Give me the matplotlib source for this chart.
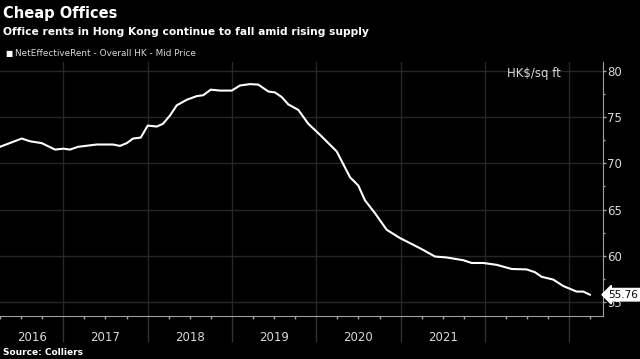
import matplotlib
matplotlib.use("Agg")
import matplotlib.pyplot as plt
from matplotlib.ticker import MultipleLocator, FixedLocator, NullFormatter

# Data (decimal year, HK$/sq ft)
years = [2016.249, 2016.507, 2016.605, 2016.744, 2016.902, 2017.0, 2017.079, 2017.174,
         2017.396, 2017.589, 2017.672, 2017.752, 2017.827, 2017.918, 2018.001, 2018.108,
         2018.182, 2018.265, 2018.345, 2018.463, 2018.582, 2018.660, 2018.748, 2018.858,
         2018.997, 2019.095, 2019.214, 2019.312, 2019.431, 2019.510, 2019.590, 2019.668,
         2019.787, 2019.905, 2020.044, 2020.242, 2020.400, 2020.498, 2020.577, 2020.696,
         2020.835, 2020.993, 2021.230, 2021.408, 2021.546, 2021.743, 2021.843, 2021.981,
         2022.139, 2022.317, 2022.495, 2022.593, 2022.673, 2022.810, 2022.929, 2023.087,
         2023.166, 2023.245]
rent = [71.8, 72.7, 72.4, 72.2, 71.5, 71.6, 71.5, 71.8,
        72.05, 72.05, 71.9, 72.2, 72.7, 72.8, 74.1, 74.0,
        74.3, 75.2, 76.3, 76.9, 77.3, 77.4, 78.0, 77.9,
        77.9, 78.45, 78.6, 78.55, 77.8, 77.7, 77.2, 76.4,
        75.8, 74.3, 73.1, 71.3, 68.5, 67.6, 66.0, 64.6,
        62.8, 61.9, 60.8, 59.9, 59.8, 59.5, 59.2, 59.2,
        59.0, 58.55, 58.5, 58.2, 57.7, 57.4, 56.7, 56.1,
        56.1, 55.76]
year_labels = ["2016", "2017", "2018", "2019", "2020", "2021"]
year_bounds = [2017, 2018, 2019, 2020, 2021, 2022, 2023]
yticks = [55, 60, 65, 70, 75, 80]
last_value = "55.76"

W, H = 640, 359
fig = plt.figure(figsize=(W / 100, H / 100), dpi=100, facecolor="black")
ax = fig.add_axes([0, 1 - 316 / H, 603 / W, (316 - 62) / H], facecolor="black")

xmin, xmax = 2016.249, 2023.40
ax.set_xlim(xmin, xmax)
ax.set_ylim(53.45, 81.0)

grid_c = "#262626"
for yv in yticks:
    ax.axhline(yv, color=grid_c, lw=1, zorder=1)
for xb in year_bounds:
    ax.axvline(xb, color=grid_c, lw=1, zorder=1)

ax.plot(years, rent, color="white", lw=1.5, zorder=3, solid_joinstyle="round")

for s in ["top", "left"]:
    ax.spines[s].set_visible(False)
ax.spines["bottom"].set_color("#a0a0a0")
ax.spines["right"].set_color("#a0a0a0")

# y axis on right
ax.yaxis.tick_right()
ax.set_yticks(yticks)
ax.yaxis.set_minor_locator(MultipleLocator(2.5))
ax.tick_params(axis="y", which="major", colors="#a0a0a0", labelcolor="#d8d8d8",
               length=2, width=1, labelsize=8.5, pad=1)
ax.tick_params(axis="y", which="minor", colors="#a0a0a0", length=1.5, width=1)

# x axis: long major ticks at year boundaries, minor quarterly ticks
ax.xaxis.set_major_locator(FixedLocator(year_bounds))
ax.xaxis.set_major_formatter(NullFormatter())
qt = [y + q / 4 for y in range(2016, 2024) for q in (1, 2, 3) if xmin < y + q / 4 < xmax]
ax.xaxis.set_minor_locator(FixedLocator(qt))
ax.tick_params(axis="x", which="major", colors="#333333", length=19, width=1)
ax.tick_params(axis="x", which="minor", colors="#a0a0a0", length=2, width=1)

# year labels centered in visible portion of each year
for lab in year_labels:
    y0 = max(int(lab), xmin)
    y1 = min(int(lab) + 1, xmax)
    ax.text((y0 + y1) / 2, -0.085, lab,
            transform=ax.get_xaxis_transform(), ha="center", va="center",
            color="#d8d8d8", fontsize=8.5)

ax.text(0.93, 0.955, "HK$/sq ft", transform=ax.transAxes, ha="right", va="center",
        color="#d8d8d8", fontsize=8.5)

# last value tag
ax.annotate(last_value, xy=(1.0, float(last_value)), xycoords=("axes fraction", "data"),
            xytext=(4, 0), textcoords="offset points", ha="left", va="center",
            color="black", fontsize=7.5, annotation_clip=False,
            bbox=dict(boxstyle="larrow,pad=0.12", fc="white", ec="white"))

# titles
fig.text(0.004, 0.962, "Cheap Offices", color="white", fontsize=10.5,
         fontweight="bold", ha="left", va="center")
fig.text(0.004, 0.91, "Office rents in Hong Kong continue to fall amid rising supply",
         color="white", fontsize=7.7, fontweight="bold", ha="left", va="center")
fig.text(0.008, 0.852, "\u25A0", color="white", fontsize=5.5, ha="left", va="center")
fig.text(0.024, 0.852, "NetEffectiveRent - Overall HK - Mid Price", color="#d8d8d8",
         fontsize=6.4, ha="left", va="center")
fig.text(0.004, 0.018, "Source: Colliers", color="white", fontsize=6.5,
         fontweight="bold", ha="left", va="center")

fig.savefig("out.png", dpi=100, facecolor="black")
